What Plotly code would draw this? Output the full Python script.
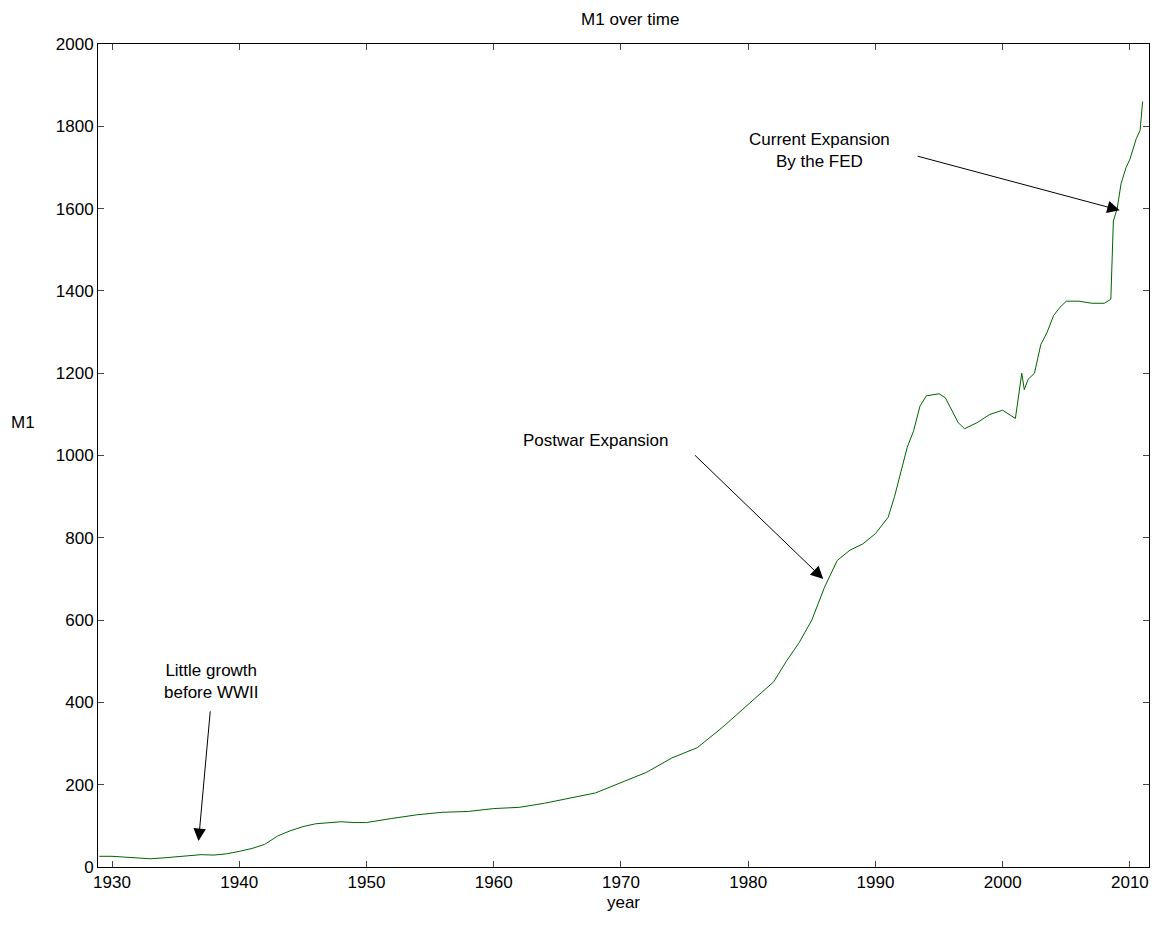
import plotly.graph_objects as go

# M1 values
years = [1929, 1930, 1931, 1932, 1933, 1934, 1935, 1936, 1937, 1938, 1939, 1940, 1941, 1942,
         1943, 1944, 1945, 1946, 1947, 1948, 1949, 1950, 1952, 1954, 1956, 1958, 1960, 1962,
         1964, 1966, 1968, 1970, 1972, 1974, 1976, 1978, 1980, 1982, 1983, 1984, 1985, 1986,
         1987, 1988, 1989, 1990, 1991, 1991.5, 1992, 1992.5, 1993, 1993.5, 1994, 1995, 1995.5,
         1996, 1996.5, 1997, 1998, 1999, 2000, 2000.5, 2001, 2001.5, 2001.7, 2002, 2002.5,
         2003, 2003.5, 2004, 2004.5, 2005, 2006, 2007, 2008, 2008.5, 2008.7, 2009, 2009.3,
         2009.7, 2010, 2010.5, 2010.8, 2011]
m1 = [26, 26, 24, 22, 20, 22, 25, 28, 30, 29, 32, 38, 45, 55, 75, 88, 98, 105, 108, 110,
      108, 108, 118, 127, 133, 135, 142, 145, 155, 168, 180, 205, 230, 265, 290, 340, 395,
      450, 500, 545, 600, 680, 745, 770, 785, 810, 850, 900, 960, 1020, 1060, 1120, 1145,
      1150, 1140, 1110, 1080, 1065, 1080, 1100, 1110, 1100, 1090, 1200, 1160, 1185, 1200,
      1270, 1300, 1340, 1360, 1375, 1375, 1370, 1370, 1380, 1570, 1600, 1660, 1700, 1720,
      1770, 1790, 1860]

fig = go.Figure(go.Scatter(x=years, y=m1, mode="lines", line=dict(color="#006400", width=1)))

font = dict(family="Liberation Sans, Arial", size=17, color="black")
# text, arrow head (x, y), arrow tail (x, y), text centre (x, y)
notes = [
    ("Little growth<br>before WWII", 1936.8, 63, 1937.8, 405, 1937.8, 452),
    ("Postwar Expansion", 1985.9, 700, 1975.5, 1010, 1968, 1036),
    ("Current Expansion<br>By the FED", 2009.2, 1596, 1993, 1730, 1985.6, 1740),
]
for text, x, y, ax, ay, tx, ty in notes:
    fig.add_annotation(x=x, y=y, ax=ax, ay=ay, xref="x", yref="y", axref="x", ayref="y",
                       showarrow=True, arrowhead=2, arrowsize=2.5, arrowwidth=1,
                       arrowcolor="black", standoff=0)
    fig.add_annotation(x=tx, y=ty, xref="x", yref="y", text=text, showarrow=False, font=font)

fig.add_annotation(text="M1", xref="paper", yref="paper", x=-0.085, y=0.54,
                   showarrow=False, font=font)

axis = dict(showline=True, linecolor="black", mirror="ticks", ticks="inside",
            ticklen=6, showgrid=False, zeroline=False, tickfont=font)
fig.update_xaxes(range=[1928.9, 2011.5], dtick=10, title=dict(text="year", font=font, standoff=4), **axis)
fig.update_yaxes(range=[0, 2000], dtick=200, **axis)
fig.update_layout(width=1174, height=932, plot_bgcolor="white", paper_bgcolor="white",
                  showlegend=False, font=font,
                  title=dict(text="M1 over time", x=0.53, y=0.994, yanchor="top", font=font),
                  margin=dict(l=90, r=33, t=36, b=73))
fig.write_html("out.html")
